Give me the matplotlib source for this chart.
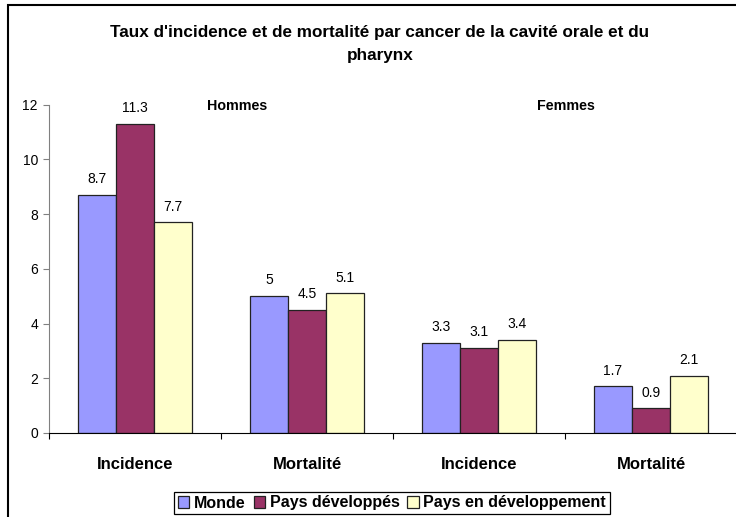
import matplotlib
matplotlib.use("Agg")
import matplotlib.pyplot as plt
from matplotlib.patches import Rectangle
import numpy as np

plt.rcParams['font.family'] = ['Liberation Sans', 'DejaVu Sans']

# Data
categories = ['Incidence', 'Mortalité', 'Incidence', 'Mortalité']
series_names = ['Monde', 'Pays développés', 'Pays en développement']
monde = [8.7, 5, 3.3, 1.7]
pays_dev = [11.3, 4.5, 3.1, 0.9]
pays_en_dev = [7.7, 5.1, 3.4, 2.1]
colors = ['#9999FF', '#993366', '#FFFFCC']

W, H = 736, 517
fig = plt.figure(figsize=(W / 100, H / 100), dpi=100)
ax = fig.add_axes([49 / W, 1 - 433 / H, (737 - 49) / W, (433 - 104.7) / H])

x = np.arange(len(categories))
width = 0.221
for i, (vals, name, col) in enumerate(zip([monde, pays_dev, pays_en_dev], series_names, colors)):
    pos = x + (i - 1) * width
    ax.bar(pos, vals, width, color=col, edgecolor='#222222', linewidth=0.9, label=name)
    for px, v in zip(pos, vals):
        ax.annotate(f'{v:g}', (px, v), xytext=(0, 8.5), textcoords='offset points',
                    ha='center', va='baseline', fontsize=10)

ax.set_xlim(-0.5, 3.5)
ax.set_ylim(0, 12)
ax.set_yticks(range(0, 13, 2))
ax.tick_params(axis='y', direction='out', length=4, width=0.8, color='#808080', labelsize=10, pad=4)

# group separators as major ticks, category names as minor ticks
ax.set_xticks(np.arange(-0.5, 4, 1))
ax.set_xticklabels([])
ax.tick_params(axis='x', which='major', direction='out', length=4, width=0.8)
ax.set_xticks(x, minor=True)
ax.set_xticklabels(categories, minor=True, fontsize=12, fontweight='bold')
ax.tick_params(axis='x', which='minor', length=0, pad=17)

ax.spines['top'].set_visible(False)
ax.spines['right'].set_visible(False)
ax.spines['left'].set_color('#808080')
ax.spines['bottom'].set_color('black')

fig.text(380 / W, 1 - 44 / H,
         "Taux d'incidence et de mortalité par cancer de la cavité orale et du\npharynx",
         ha='center', va='center', fontsize=12.3, fontweight='bold', linespacing=1.65)
fig.text(237.5 / W, 1 - 106 / H, 'Hommes', ha='center', va='center', fontsize=10.3, fontweight='bold')
fig.text(566 / W, 1 - 106 / H, 'Femmes', ha='center', va='center', fontsize=10.3, fontweight='bold')

leg = fig.legend(loc='center', bbox_to_anchor=(392 / W, 1 - 503 / H), ncol=3,
                 fancybox=False, edgecolor='black', framealpha=1,
                 handlelength=0.7, handleheight=0.7, handletextpad=0.3,
                 columnspacing=0.5, borderpad=0.25, borderaxespad=0,
                 prop={'size': 11.5, 'weight': 'bold'})
leg.get_frame().set_linewidth(0.9)

# chart area border (only top and left visible in the crop)
fig.patches.append(Rectangle((8 / W, -0.05), 1.2, 1 - 4.5 / H + 0.05, transform=fig.transFigure,
                             fill=False, edgecolor='black', linewidth=1.5))

fig.savefig('out.png', dpi=100)
